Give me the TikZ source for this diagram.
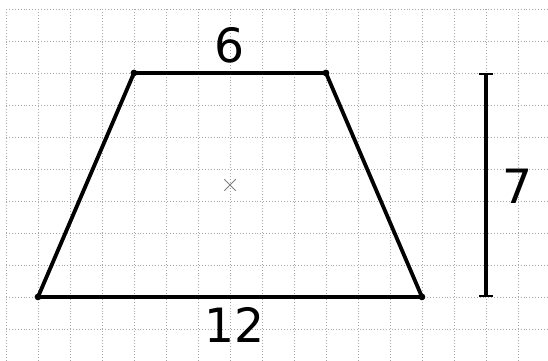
\documentclass[tikz,border=0pt]{standalone}
\usepackage{fontspec}
\setmainfont{DejaVu Sans}
\usetikzlibrary{calc,arrows.meta}

\begin{document}
\begin{tikzpicture}
    % 余白を固定
    \useasboundingbox (-1.1875,-2.0) rectangle (15.94,9.28);
    % 方眼を描画
    \draw [gray!70, dotted, line width=0.6pt] (-1,-2) grid (15.94,9);

    % 台形の頂点
    \pgfmathsetmacro{\h}{7}
    \coordinate (A) at (0,0);
    \coordinate (B) at (12,0);
    \coordinate (C) at (9,\h);
    \coordinate (D) at (3,\h);
    \draw [line width=3.4pt, line join=round] (A) -- (B) -- (C) -- (D) -- cycle;
    \foreach \p in {A,B,C,D} {
        \fill (\p) circle (3pt);
    }

    % 中心に「×」
    \coordinate (M) at (6,3.5);
    \draw [gray, line width=0.8pt] ($(M)+(-0.18,-0.18)$) -- ($(M)+(0.18,0.18)$)
        ($(M)+(-0.18,0.18)$) -- ($(M)+(0.18,-0.18)$);

    % 高さの線
    \coordinate (H1) at (14,\h);
    \coordinate (H2) at (14,0);
    \draw [line width=3.4pt, {Bar[width=0.45cm,line width=2pt]}-{Bar[width=0.45cm,line width=2pt]}] (H1) -- (H2);

    % 長さの数字
    \node (top) at (6.0,7.87) {\fontsize{42}{42}\selectfont 6};
    \node (bottom) at (6.15,-0.87) {\fontsize{42}{42}\selectfont 12};
    \node (height) at (15.0,3.47) {\fontsize{42}{42}\selectfont 7};
\end{tikzpicture}
\end{document}
